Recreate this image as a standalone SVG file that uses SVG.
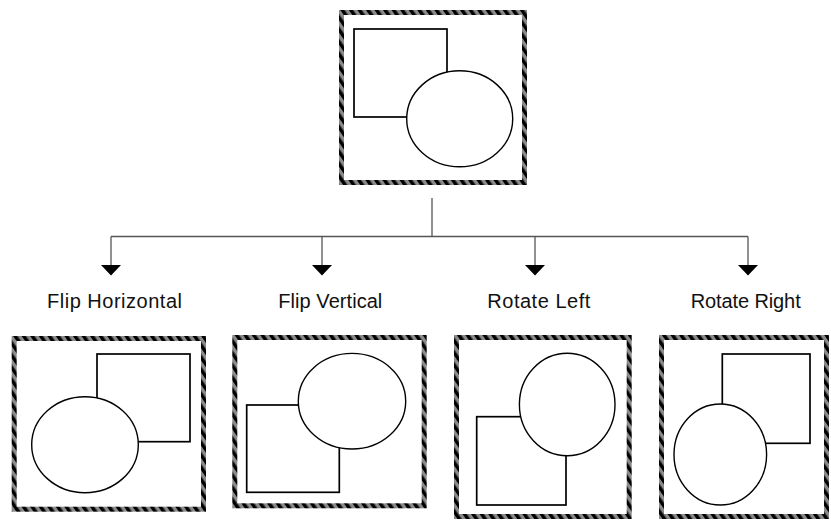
<svg xmlns="http://www.w3.org/2000/svg" width="831" height="520" viewBox="0 0 831 520">
<style>
.frame{fill:#fff;stroke:url(#hatch);stroke-width:5}
.sq{fill:none;stroke:#000;stroke-width:1.7}
.ci{fill:#fff;stroke:#000;stroke-width:1.4}
.lbl{font-family:"Liberation Sans",Arial,sans-serif;font-size:20px;fill:#111}
.conn line{stroke:#555;stroke-width:1.3}
</style>
<defs>
<pattern id="hatch" patternUnits="userSpaceOnUse" width="7" height="7" patternTransform="rotate(-35)">
<rect width="7" height="7" fill="#8a8a8a"/>
<rect width="3.5" height="7" fill="#000"/>
</pattern>
<marker id="arr" markerWidth="11" markerHeight="20" refX="0" refY="10" orient="auto" markerUnits="userSpaceOnUse" viewBox="0 0 11 20">
<path d="M0,0 L10.5,10 L0,20 Z" fill="#000"/>
</marker>
</defs>
<rect width="831" height="520" fill="#fff"/>

<g id="original">
<rect class="frame" x="341.5" y="12.5" width="183" height="170"/>
<rect class="sq" x="354" y="29" width="93" height="88"/>
<ellipse class="ci" cx="459.7" cy="118.8" rx="53" ry="48"/>
</g>

<g class="conn" id="connectors">
<line x1="432" y1="198" x2="432" y2="236.5"/>
<line x1="111" y1="236.5" x2="748" y2="236.5"/>
<line x1="111" y1="236.5" x2="111" y2="265" marker-end="url(#arr)"/>
<line x1="322" y1="236.5" x2="322" y2="265" marker-end="url(#arr)"/>
<line x1="535" y1="236.5" x2="535" y2="265" marker-end="url(#arr)"/>
<line x1="748" y1="236.5" x2="748" y2="265" marker-end="url(#arr)"/>
</g>

<g id="flip-horizontal">
<text class="lbl" x="47" y="308" textLength="135" lengthAdjust="spacing">Flip Horizontal</text>
<rect class="frame" x="14.2" y="338.5" width="189.3" height="170.7"/>
<rect class="sq" x="97" y="354" width="93" height="87.7"/>
<ellipse class="ci" cx="85" cy="444.7" rx="53.3" ry="48"/>
</g>

<g id="flip-vertical">
<text class="lbl" x="278.3" y="308" textLength="104" lengthAdjust="spacing">Flip Vertical</text>
<rect class="frame" x="234.8" y="337.5" width="189.4" height="168.3"/>
<rect class="sq" x="246.7" y="405" width="92.6" height="87.3"/>
<ellipse class="ci" cx="352" cy="401.2" rx="53.7" ry="47.8"/>
</g>

<g id="rotate-left">
<text class="lbl" x="487.3" y="308" textLength="103" lengthAdjust="spacing">Rotate Left</text>
<rect class="frame" x="456.5" y="337.5" width="172.7" height="179"/>
<rect class="sq" x="476.7" y="416.7" width="89.3" height="88.3"/>
<ellipse class="ci" cx="567.2" cy="404.5" rx="47.8" ry="51.2"/>
</g>

<g id="rotate-right">
<text class="lbl" x="690.7" y="308" textLength="110" lengthAdjust="spacing">Rotate Right</text>
<rect class="frame" x="661.5" y="337.5" width="165" height="179"/>
<rect class="sq" x="722.3" y="354" width="87.7" height="89.3"/>
<ellipse class="ci" cx="720.3" cy="454.5" rx="46.3" ry="50.5"/>
</g>
</svg>
